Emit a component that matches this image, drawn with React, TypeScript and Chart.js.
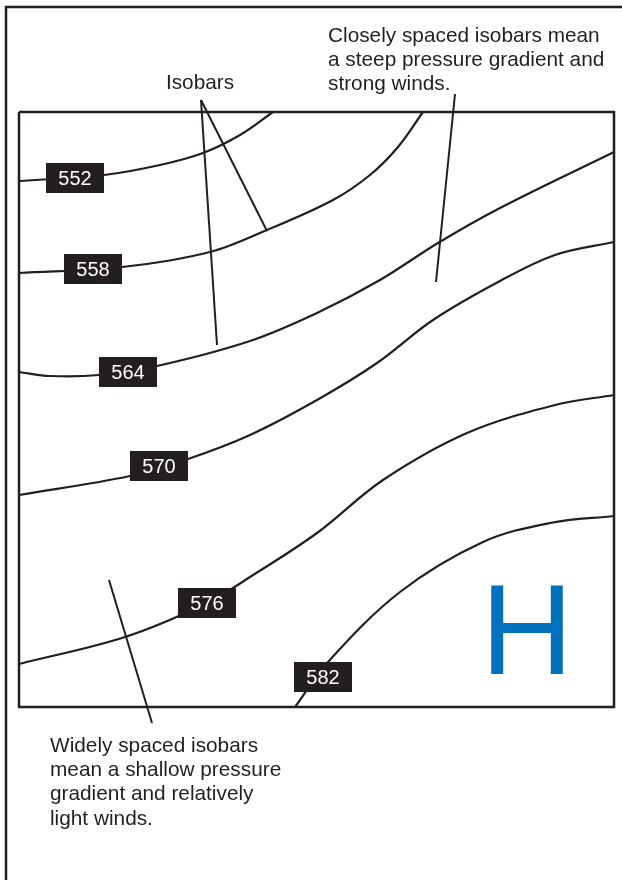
import React, { useEffect, useRef } from "react";
import { Chart, registerables } from "chart.js";

Chart.register(...registerables);

// Diagram coordinate space (x: 0..622 left→right, y: 0..880 top→bottom)
const isobar552: [number, number][] = [[19, 181], [104, 175], [160, 165], [203, 153], [240, 135], [273, 112]];
const isobar558: [number, number][] = [[19, 273], [122, 267], [210, 252], [267, 230], [333, 200], [370, 175], [398, 147], [423, 112]];
const isobar564: [number, number][] = [[19, 372], [50, 376], [99, 375], [157, 366], [250, 341], [317, 313], [380, 280], [438, 243], [500, 208], [614, 152]];
const isobar570: [number, number][] = [[19, 495], [130, 476], [188, 459], [250, 435], [317, 400], [377, 363], [433, 320], [500, 281], [555, 255], [614, 242]];
const isobar576: [number, number][] = [[19, 664], [125, 637], [207, 603], [250, 577], [317, 533], [383, 480], [467, 433], [555, 405], [614, 395]];
const isobar582: [number, number][] = [[295, 707], [328, 662], [400, 592], [483, 542], [550, 523], [614, 516]];

const isobarValues = ["552", "558", "564", "570", "576", "582"];
const labelPositions: [number, number][] = [[75, 178], [93, 269], [128, 372], [159, 466], [207, 603], [323, 677]];

const innerBox: [number, number][] = [[19, 112], [614, 112], [614, 707], [19, 707], [19, 112]];
const outerFrame: [number, number][] = [[6, 880], [6, 7], [622, 7]];

const leaderIsobarsA: [number, number][] = [[201, 100], [217, 345]];
const leaderIsobarsB: [number, number][] = [[201, 100], [267, 231]];
const leaderClose: [number, number][] = [[455, 94], [436, 282]];
const leaderWide: [number, number][] = [[109, 580], [152, 723]];

const isobarsText = "Isobars";
const isobarsTextPos: [number, number] = [200, 89];
const closeText = ["Closely spaced isobars mean", "a steep pressure gradient and", "strong winds."];
const closeTextPos: [number, number] = [328, 42];
const wideText = ["Widely spaced isobars", "mean a shallow pressure", "gradient and relatively", "light winds."];
const wideTextPos: [number, number] = [50, 752];
const highText = "H";
const highTextPos: [number, number] = [527, 674];

const INK = "#231f20";
const BLUE = "#0071bc";
const FONT = "'Liberation Sans', Arial, Helvetica, sans-serif";

const toPts = (arr: [number, number][]) => arr.map(([x, y]) => ({ x, y }));

export default function App() {
  const ref = useRef<HTMLCanvasElement | null>(null);

  useEffect(() => {
    if (!ref.current) return;
    const isobars = [isobar552, isobar558, isobar564, isobar570, isobar576, isobar582];
    const lineDs = (pts: [number, number][], width: number, curved: boolean) => ({
      data: toPts(pts),
      showLine: true,
      borderColor: INK,
      backgroundColor: INK,
      borderWidth: width,
      pointRadius: 0,
      pointHoverRadius: 0,
      tension: curved ? 0.35 : 0,
      fill: false,
      clip: false as any,
    });

    const annotate = {
      id: "annotate",
      afterDatasetsDraw(chart: any) {
        const ctx = chart.ctx as CanvasRenderingContext2D;
        const xs = chart.scales.x;
        const ys = chart.scales.y;
        const px = (v: number) => xs.getPixelForValue(v);
        const py = (v: number) => ys.getPixelForValue(v);
        ctx.save();
        // isobar value labels
        isobarValues.forEach((t, i) => {
          const [lx, ly] = labelPositions[i];
          const cx = px(lx);
          const cy = py(ly);
          ctx.fillStyle = INK;
          ctx.fillRect(cx - 29, cy - 15, 58, 30);
          ctx.fillStyle = "#ffffff";
          ctx.font = `20px ${FONT}`;
          ctx.textAlign = "center";
          ctx.textBaseline = "middle";
          ctx.fillText(t, cx, cy + 1);
        });
        // annotations
        ctx.fillStyle = INK;
        ctx.font = `20.8px ${FONT}`;
        ctx.textBaseline = "alphabetic";
        ctx.textAlign = "center";
        ctx.fillText(isobarsText, px(isobarsTextPos[0]), py(isobarsTextPos[1]));
        ctx.textAlign = "left";
        closeText.forEach((l, i) => ctx.fillText(l, px(closeTextPos[0]), py(closeTextPos[1] + i * 24.2)));
        wideText.forEach((l, i) => ctx.fillText(l, px(wideTextPos[0]), py(wideTextPos[1] + i * 24.2)));
        // High marker
        ctx.fillStyle = BLUE;
        ctx.font = `128px ${FONT}`;
        ctx.textAlign = "center";
        ctx.fillText(highText, px(highTextPos[0]), py(highTextPos[1]));
        ctx.restore();
      },
    };

    const chart = new Chart(ref.current, {
      type: "scatter",
      data: {
        datasets: [
          lineDs(outerFrame, 2.5, false),
          lineDs(innerBox, 2.5, false),
          ...isobars.map((p) => lineDs(p, 2.2, true)),
          lineDs(leaderIsobarsA, 2, false),
          lineDs(leaderIsobarsB, 2, false),
          lineDs(leaderClose, 2, false),
          lineDs(leaderWide, 2, false),
        ] as any,
      },
      options: {
        animation: false,
        responsive: false,
        devicePixelRatio: 1,
        layout: { padding: 0 },
        events: [],
        plugins: { legend: { display: false }, tooltip: { enabled: false } },
        scales: {
          x: { type: "linear", min: 0, max: 622, display: false },
          y: { type: "linear", min: 0, max: 880, reverse: true, display: false },
        },
      },
      plugins: [annotate],
    });
    return () => chart.destroy();
  }, []);

  return (
    <div style={{ position: "absolute", left: 0, top: 0, width: 622, height: 880, background: "#fff" }}>
      <canvas ref={ref} width={622} height={880} style={{ display: "block", width: 622, height: 880 }} />
    </div>
  );
}
